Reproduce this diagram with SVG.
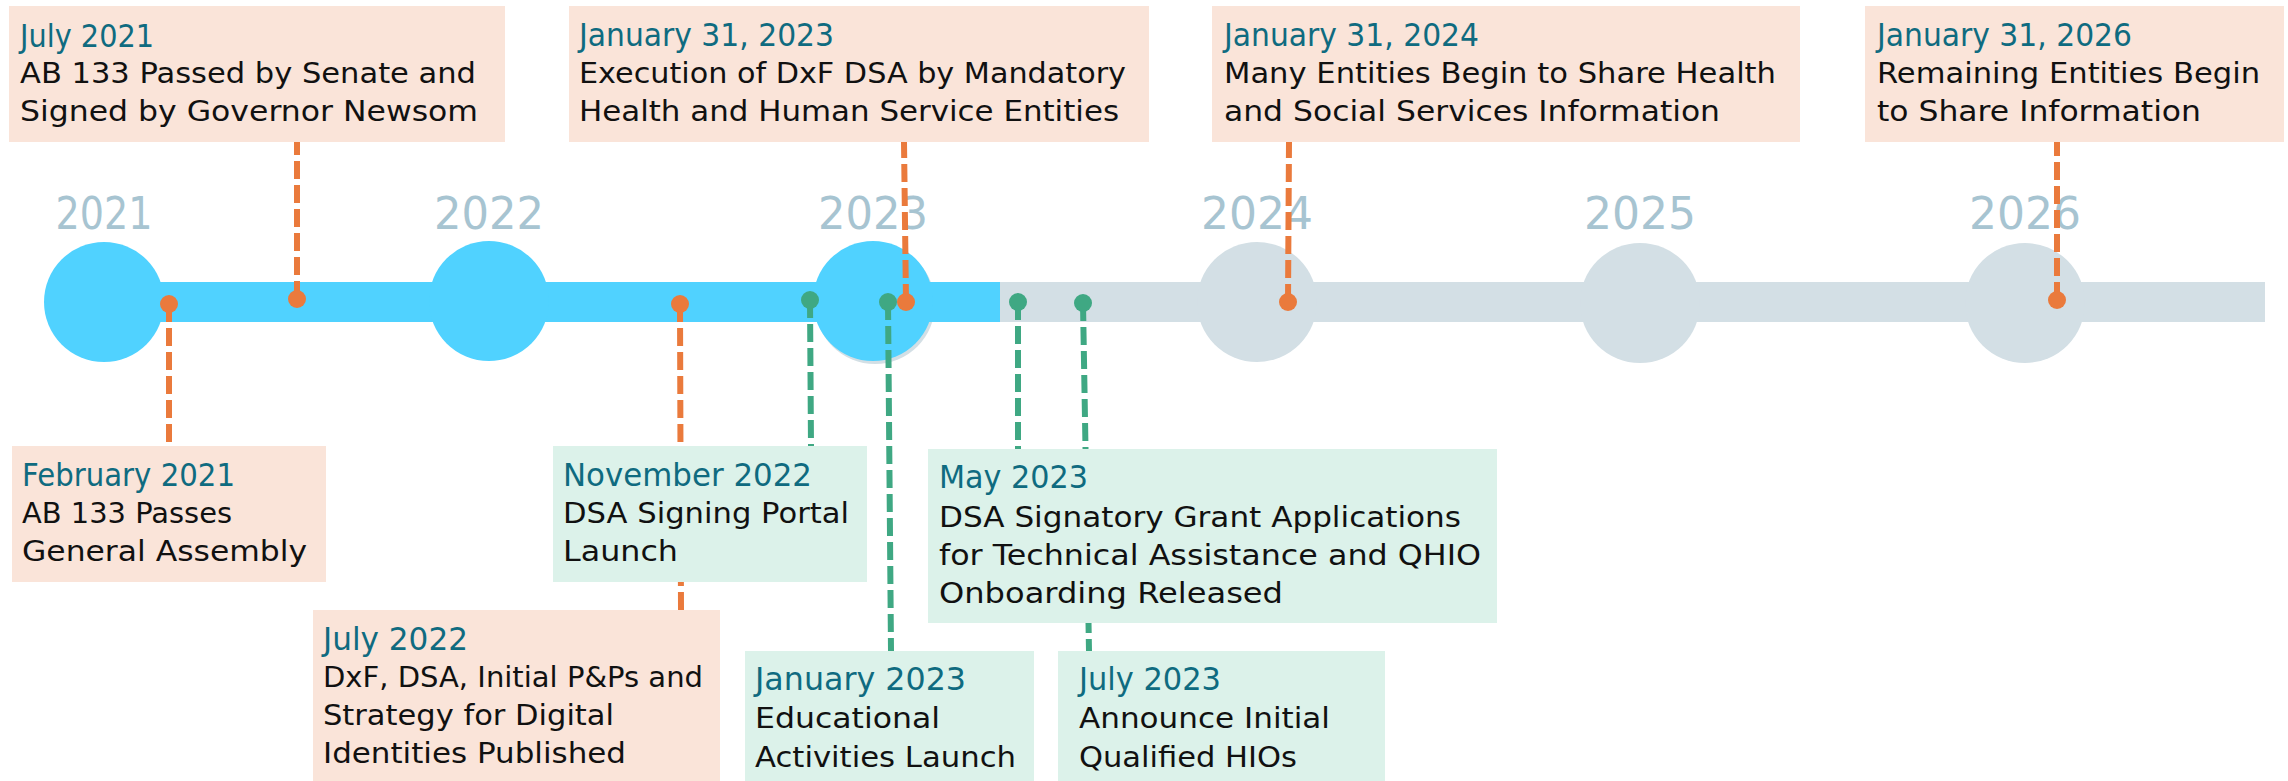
<svg xmlns="http://www.w3.org/2000/svg" width="2288" height="781" viewBox="0 0 2288 781">
<style>
.peach{fill:#fae4d9}
.mint{fill:#dcf2ea}
.date{font-family:"DejaVu Sans",sans-serif;font-size:32px;fill:#0f6b80}
.body{font-family:"DejaVu Sans",sans-serif;font-size:28px;fill:#111111}
.year{font-family:"DejaVu Sans",sans-serif;font-size:45px;fill:#a7c4d1;text-anchor:middle}
.ol{stroke:#ea7a3c;stroke-width:6;stroke-dasharray:18 6;fill:none}
.gl{stroke:#3fa883;stroke-width:6;stroke-dasharray:18 6;fill:none}
.od{fill:#ea7a3c}
.gd{fill:#3fa883}
.blue{fill:#50d2ff}
.gray{fill:#d3dfe5}
</style>
<g id="timeline">
<rect class="gray" x="1000" y="282" width="1265" height="40"/>
<circle class="gray" cx="1257" cy="302" r="60"/>
<circle class="gray" cx="1640" cy="303" r="60"/>
<circle class="gray" cx="2025" cy="303" r="60"/>
<circle class="gray" cx="875" cy="304" r="60"/>
<rect class="blue" x="104" y="282" width="896" height="40"/>
<circle class="blue" cx="104" cy="302" r="60"/>
<circle class="blue" cx="489" cy="301" r="60"/>
<circle class="blue" cx="873" cy="301" r="60"/>
<text class="year" x="104" y="229" textLength="97" lengthAdjust="spacingAndGlyphs">2021</text>
<text class="year" x="489" y="229" textLength="110" lengthAdjust="spacingAndGlyphs">2022</text>
<text class="year" x="873" y="229" textLength="110" lengthAdjust="spacingAndGlyphs">2023</text>
<text class="year" x="1257" y="229" textLength="112" lengthAdjust="spacingAndGlyphs">2024</text>
<text class="year" x="1640" y="229" textLength="112" lengthAdjust="spacingAndGlyphs">2025</text>
<text class="year" x="2025" y="229" textLength="112" lengthAdjust="spacingAndGlyphs">2026</text>
</g>
<g id="connectors">
<path class="ol" d="M297 299 L297 142"/>
<path class="ol" d="M906 302 L904 142"/>
<path class="ol" d="M1288 302 L1289 142"/>
<path class="ol" d="M2057 300 L2057 142"/>
<path class="ol" d="M169 304 L169 446"/>
<path class="ol" d="M680 304 L681 610"/>
<path class="gl" d="M810 300 L811 446"/>
<path class="gl" d="M888 302 L891 651"/>
<path class="gl" d="M1018 302 L1018 449"/>
<path class="gl" d="M1083 303 L1089 651"/>
<circle class="od" cx="297" cy="299" r="9"/>
<circle class="od" cx="906" cy="302" r="9"/>
<circle class="od" cx="1288" cy="302" r="9"/>
<circle class="od" cx="2057" cy="300" r="9"/>
<circle class="od" cx="169" cy="304" r="9"/>
<circle class="od" cx="680" cy="304" r="9"/>
<circle class="gd" cx="810" cy="300" r="9"/>
<circle class="gd" cx="888" cy="302" r="9"/>
<circle class="gd" cx="1018" cy="302" r="9"/>
<circle class="gd" cx="1083" cy="303" r="9"/>
</g>
<g id="jul2021">
<rect class="peach" x="9" y="6" width="496" height="136"/>
<text class="date" x="20" y="47" textLength="134" lengthAdjust="spacingAndGlyphs">July 2021</text>
<text class="body" x="20" y="83" textLength="456" lengthAdjust="spacingAndGlyphs">AB 133 Passed by Senate and</text>
<text class="body" x="20" y="121" textLength="458" lengthAdjust="spacingAndGlyphs">Signed by Governor Newsom</text>
</g>
<g id="jan2023dsa">
<rect class="peach" x="569" y="6" width="580" height="136"/>
<text class="date" x="579" y="46" textLength="255" lengthAdjust="spacingAndGlyphs">January 31, 2023</text>
<text class="body" x="579" y="83" textLength="547" lengthAdjust="spacingAndGlyphs">Execution of DxF DSA by Mandatory</text>
<text class="body" x="579" y="121" textLength="540" lengthAdjust="spacingAndGlyphs">Health and Human Service Entities</text>
</g>
<g id="jan2024">
<rect class="peach" x="1212" y="6" width="588" height="136"/>
<text class="date" x="1224" y="46" textLength="255" lengthAdjust="spacingAndGlyphs">January 31, 2024</text>
<text class="body" x="1224" y="83" textLength="552" lengthAdjust="spacingAndGlyphs">Many Entities Begin to Share Health</text>
<text class="body" x="1224" y="121" textLength="496" lengthAdjust="spacingAndGlyphs">and Social Services Information</text>
</g>
<g id="jan2026">
<rect class="peach" x="1865" y="6" width="419" height="136"/>
<text class="date" x="1877" y="46" textLength="255" lengthAdjust="spacingAndGlyphs">January 31, 2026</text>
<text class="body" x="1877" y="83" textLength="383" lengthAdjust="spacingAndGlyphs">Remaining Entities Begin</text>
<text class="body" x="1877" y="121" textLength="324" lengthAdjust="spacingAndGlyphs">to Share Information</text>
</g>
<g id="feb2021">
<rect class="peach" x="12" y="446" width="314" height="136"/>
<text class="date" x="22" y="486" textLength="213" lengthAdjust="spacingAndGlyphs">February 2021</text>
<text class="body" x="22" y="523" textLength="210" lengthAdjust="spacingAndGlyphs">AB 133 Passes</text>
<text class="body" x="22" y="561" textLength="285" lengthAdjust="spacingAndGlyphs">General Assembly</text>
</g>
<g id="nov2022">
<rect class="mint" x="553" y="446" width="314" height="136"/>
<text class="date" x="563" y="486" textLength="249" lengthAdjust="spacingAndGlyphs">November 2022</text>
<text class="body" x="563" y="523" textLength="286" lengthAdjust="spacingAndGlyphs">DSA Signing Portal</text>
<text class="body" x="563" y="561" textLength="115" lengthAdjust="spacingAndGlyphs">Launch</text>
</g>
<g id="jul2022">
<rect class="peach" x="313" y="610" width="407" height="171"/>
<text class="date" x="323" y="650" textLength="145" lengthAdjust="spacingAndGlyphs">July 2022</text>
<text class="body" x="323" y="687" textLength="380" lengthAdjust="spacingAndGlyphs">DxF, DSA, Initial P&amp;Ps and</text>
<text class="body" x="323" y="725" textLength="291" lengthAdjust="spacingAndGlyphs">Strategy for Digital</text>
<text class="body" x="323" y="763" textLength="303" lengthAdjust="spacingAndGlyphs">Identities Published</text>
</g>
<g id="jan2023">
<rect class="mint" x="745" y="651" width="289" height="130"/>
<text class="date" x="755" y="690" textLength="211" lengthAdjust="spacingAndGlyphs">January 2023</text>
<text class="body" x="755" y="728" textLength="185" lengthAdjust="spacingAndGlyphs">Educational</text>
<text class="body" x="755" y="767" textLength="261" lengthAdjust="spacingAndGlyphs">Activities Launch</text>
</g>
<g id="may2023">
<rect class="mint" x="928" y="449" width="569" height="174"/>
<text class="date" x="939" y="488" textLength="149" lengthAdjust="spacingAndGlyphs">May 2023</text>
<text class="body" x="939" y="527" textLength="522" lengthAdjust="spacingAndGlyphs">DSA Signatory Grant Applications</text>
<text class="body" x="939" y="565" textLength="542" lengthAdjust="spacingAndGlyphs">for Technical Assistance and QHIO</text>
<text class="body" x="939" y="603" textLength="344" lengthAdjust="spacingAndGlyphs">Onboarding Released</text>
</g>
<g id="jul2023">
<rect class="mint" x="1058" y="651" width="327" height="130"/>
<text class="date" x="1079" y="690" textLength="142" lengthAdjust="spacingAndGlyphs">July 2023</text>
<text class="body" x="1079" y="728" textLength="251" lengthAdjust="spacingAndGlyphs">Announce Initial</text>
<text class="body" x="1079" y="767" textLength="218" lengthAdjust="spacingAndGlyphs">Qualified HIOs</text>
</g>
</svg>
